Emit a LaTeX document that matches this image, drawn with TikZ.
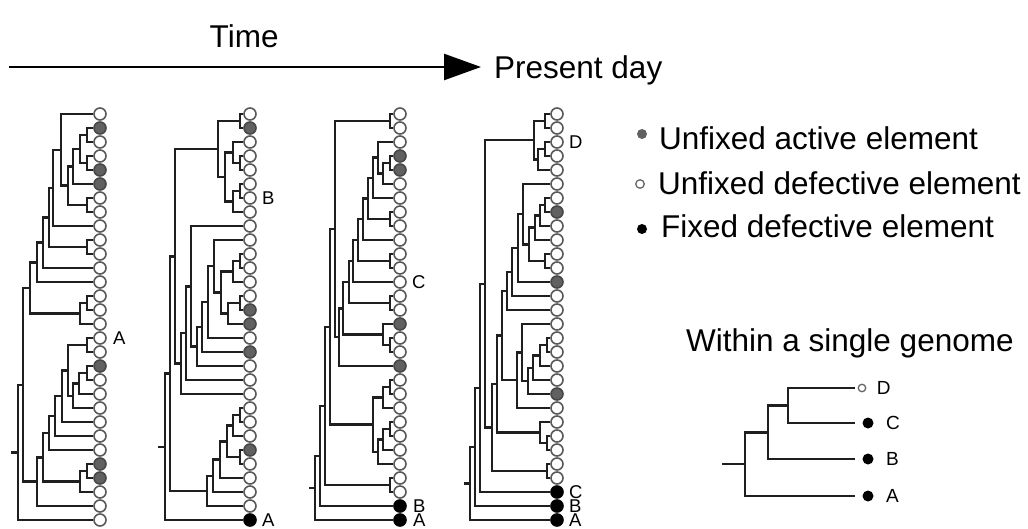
\documentclass[tikz,border=0pt]{standalone}
\usepackage{fontspec}
\setmainfont{Liberation Sans}
\usetikzlibrary{positioning,calc,arrows.meta}

\begin{document}
\begin{tikzpicture}[x=1pt,y=-1pt,
		branch/.style={draw=black!88,line width=2.5pt},
		leaf/.style={circle,inner sep=0pt,minimum size=12pt,line width=1.6pt},
		leafo/.style={leaf,draw=black!65,fill=white},
		leafd/.style={leaf,draw=black!72,fill=black!62},
		leaff/.style={leaf,draw=black,fill=black},
		dotd/.style={circle,inner sep=0pt,minimum size=10pt,fill=black!62},
		doto/.style={circle,inner sep=0pt,minimum size=8.5pt,draw=black!60,line width=1.3pt},
		dotf/.style={circle,inner sep=0pt,minimum size=10pt,fill=black},
		tag/.style={font=\fontsize{18.5}{21}\selectfont,inner sep=0pt,anchor=west},
		big/.style={font=\fontsize{31.5}{36}\selectfont,inner sep=0pt,anchor=base west},
	]
	\useasboundingbox (0,0) rectangle (1028,529);

	% time axis
	\coordinate (past) at (9,67);
	\coordinate (now) at (481,67);
	\draw[line width=2.6pt,-{Triangle[length=37pt,width=26pt]}] (past) -- (now);
	\node[big] (time) at (209.5,48) {Time};
	\node[big] (present) at (494,79) {Present day};

	% first tree
	\foreach \kind [count=\i] in {o,d,o,o,d,d,o,o,o,o,o,o,o,o,o,o,o,o,d,o,o,o,o,o,o,d,d,o,o,o}
		\node[leaf\kind] (one-\i) at (100,100+14*\i) {};
	\foreach \nd/\xx/\ca/\cb in {c23/87/2/3, c45/87/4/5, n1/80/c23/c45, n2/73/n1/6,
			c78/87/7/8, n3/68/n2/c78, n4/61/1/n3, n5/53/n4/9, c1011/87/10/11,
			n6/49/n5/c1011, n7/43/n6/12, n8/37/n7/13, c1415/87/14/15, n9/80/c1415/16,
			n10/30/n8/n9, c1718/87/17/18, c1920/87/19/20, n11/79/c1920/21, n12/73/n11/22,
			n13/68/c1718/n12, n14/62/n13/23, n15/55/n14/24, n16/49/n15/25,
			c2627/87/26/27, n17/80/c2627/28, n18/43/n16/n17, n19/37/n18/29,
			n20/23/n10/n19, root/18/n20/30}{
		\path let \p1=(one-\ca), \p2=(one-\cb) in ({\xx*1pt},{(\y1+\y2)/2}) coordinate (one-\nd);
		\draw[branch] (one-\nd) |- (one-\ca) (one-\nd) |- (one-\cb);
	}
	\path (one-root) ++(-7,0) coordinate (one-base);
	\draw[branch] (one-base) -- (one-root);
	\node[tag,right=6pt of one-17] (one-A) {A};

	% second tree
	\foreach \kind [count=\i] in {o,d,o,o,o,o,o,o,o,o,o,o,o,o,d,d,o,d,o,o,o,o,o,o,d,o,o,o,o,f}
		\node[leaf\kind] (two-\i) at (250,100+14*\i) {};
	\foreach \nd/\xx/\ca/\cb in {c12/240/1/2, c45/240/4/5, m1/233/3/c45, c67/240/6/7,
			m2/233/c67/8, m3/225/m1/m2, m4/218/c12/m3, c1112/240/11/12, m5/233/c1112/13,
			c1415/240/14/15, m6/228/c1415/16, m7/221/m5/m6, m8/214/10/m7, m9/208/m8/17,
			m10/202/m9/18, m11/197/m10/19, m12/191/9/m11, m13/186/m12/20, m14/181/m13/21,
			m15/175/m4/m14, c2223/240/22/23, m16/233/c2223/24, c2526/240/25/26,
			m17/227/m16/c2526, m18/220/m17/27, m19/213/m18/28, m20/207/m19/29,
			m21/170/m15/m20, root/165/m21/30}{
		\path let \p1=(two-\ca), \p2=(two-\cb) in ({\xx*1pt},{(\y1+\y2)/2}) coordinate (two-\nd);
		\draw[branch] (two-\nd) |- (two-\ca) (two-\nd) |- (two-\cb);
	}
	\path (two-root) ++(-7,0) coordinate (two-base);
	\draw[branch] (two-base) -- (two-root);
	\node[tag,right=5pt of two-7] (two-B) {B};
	\node[tag,right=5pt of two-30] (two-A) {A};

	% third tree
	\foreach \kind [count=\i] in {o,o,o,d,d,o,o,o,o,o,o,o,o,o,o,d,o,o,d,o,o,o,o,o,o,o,o,o,f,f}
		\node[leaf\kind] (three-\i) at (400,100+14*\i) {};
	\foreach \nd/\xx/\ca/\cb in {c12/390/1/2, c45/390/4/5, p1/383/c45/6, p2/378/3/p1,
			p3/373/p2/7, c89/390/8/9, p4/368/p3/c89, p5/363/p4/10, c1112/390/11/12,
			p6/358/p5/c1112, p7/353/p6/13, c1415/390/14/15, p8/349/p7/c1415,
			c1718/390/17/18, p9/383/16/c1718, p10/343/p8/p9, p11/339/p10/19,
			p12/335/c12/p11, c2021/390/20/21, p13/383/c2021/22, c2324/390/23/24,
			p14/383/c2324/25, p15/378/p14/26, p16/373/p13/p15, p17/330/p12/p16,
			c2728/390/27/28, p18/325/p17/c2728, p19/320/p18/29, root/315/p19/30}{
		\path let \p1=(three-\ca), \p2=(three-\cb) in ({\xx*1pt},{(\y1+\y2)/2}) coordinate (three-\nd);
		\draw[branch] (three-\nd) |- (three-\ca) (three-\nd) |- (three-\cb);
	}
	\path (three-root) ++(-6,0) coordinate (three-base);
	\draw[branch] (three-base) -- (three-root);
	\node[tag,right=5pt of three-13] (three-C) {C};
	\node[tag,right=6pt of three-29] (three-B) {B};
	\node[tag,right=6pt of three-30] (three-A) {A};

	% fourth tree
	\foreach \kind [count=\i] in {o,o,o,o,o,o,o,d,o,o,o,o,d,o,o,o,o,o,o,o,d,o,o,o,o,o,o,f,f,f}
		\node[leaf\kind] (four-\i) at (557,100+14*\i) {};
	\foreach \nd/\xx/\ca/\cb in {c12/545/1/2, c34/545/3/4, u1/538/c34/5, u2/534/c12/u1,
			c78/545/7/8, t1/540/c78/9, t2/535/t1/10, c1112/545/11/12, t3/529/t2/c1112,
			t4/523/6/t3, t5/518/t4/13, t6/512/t5/14, t7/507/t6/15, c1718/547/17/18,
			q1/540/c1718/19, q2/533/q1/20, q3/528/q2/21, q4/522/16/q3, q5/517/q4/22,
			s1/502/t7/q5, c2425/547/24/25, q6/540/23/c2425, s2/497/s1/q6,
			c2627/547/26/27, s3/492/s2/c2627, r1/485/u2/s3, r2/480/r1/28,
			r3/475/r2/29, root/470/r3/30}{
		\path let \p1=(four-\ca), \p2=(four-\cb) in ({\xx*1pt},{(\y1+\y2)/2}) coordinate (four-\nd);
		\draw[branch] (four-\nd) |- (four-\ca) (four-\nd) |- (four-\cb);
	}
	\path (four-root) ++(-6,0) coordinate (four-base);
	\draw[branch] (four-base) -- (four-root);
	\node[tag,right=5pt of four-3] (four-D) {D};
	\node[tag,right=5pt of four-28] (four-C) {C};
	\node[tag,right=5pt of four-29] (four-B) {B};
	\node[tag,right=5pt of four-30] (four-A) {A};

	% legend
	\node[dotd] (key-act) at (642,134) {};
	\node[big] (lab-act) at (659,150) {Unfixed active element};
	\node[doto] (key-def) at (640,184) {};
	\node[big] (lab-def) at (658,195) {Unfixed defective element};
	\node[dotf] (key-fix) at (642,229) {};
	\node[big] (lab-fix) at (661,238) {Fixed defective element};

	% single genome
	\node[big] (within) at (686,352) {Within a single genome};
	\node[doto,minimum size=7.5pt,outer sep=3pt] (g-D) at (862,388) {};
	\node[dotf,minimum size=11pt,outer sep=7.5pt] (g-C) at (868,423) {};
	\node[dotf,minimum size=11pt,outer sep=7.5pt] (g-B) at (868,459) {};
	\node[dotf,minimum size=11pt,outer sep=7.5pt] (g-A) at (868,496) {};
	\foreach \nd/\xx/\ca/\cb in {n1/788/D/C, n2/768/n1/B, root/745/n2/A}{
		\path let \p1=(g-\ca), \p2=(g-\cb) in ({\xx*1pt},{(\y1+\y2)/2}) coordinate (g-\nd);
		\draw[branch] (g-\nd) |- (g-\ca) (g-\nd) |- (g-\cb);
	}
	\path (g-root) ++(-23,0) coordinate (g-base);
	\draw[branch] (g-base) -- (g-root);
	\node[tag,font=\fontsize{19}{22}\selectfont,right=8pt of g-D] (g-Dl) {D};
	\node[tag,font=\fontsize{19}{22}\selectfont,right=5pt of g-C] (g-Cl) {C};
	\node[tag,font=\fontsize{19}{22}\selectfont,right=5pt of g-B] (g-Bl) {B};
	\node[tag,font=\fontsize{19}{22}\selectfont,right=5pt of g-A] (g-Al) {A};
\end{tikzpicture}
\end{document}
